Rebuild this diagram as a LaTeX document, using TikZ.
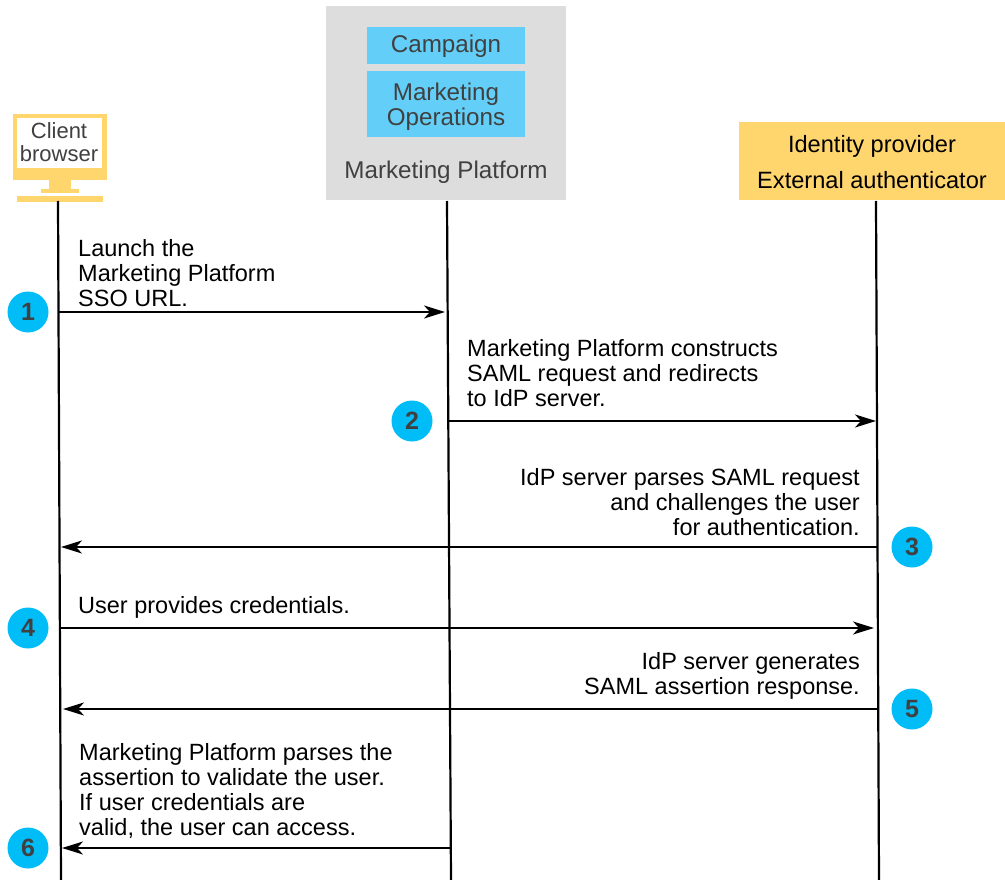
\documentclass[tikz,border=0pt]{standalone}
\usepackage{fontspec}
\setmainfont{Liberation Sans}
\usetikzlibrary{arrows.meta}
\definecolor{gold}{HTML}{FFD56E}
\definecolor{sky}{HTML}{63CFF8}
\definecolor{platgray}{HTML}{DDDDDD}
\definecolor{badge}{HTML}{00BDF8}
\definecolor{ink}{HTML}{404040}
\tikzset{
  lifeline/.style={draw=black,line width=2.2pt},
  msg/.style={draw=black,line width=2.2pt,-{Stealth[length=21pt,width=13pt,inset=6pt]}},
  label/.style={inner sep=0pt,font=\fontsize{23.5}{25}\selectfont,text=black},
  leftlabel/.style={label,anchor=north west,align=left},
  rightlabel/.style={label,anchor=north east,align=right},
  boxtext/.style={inner sep=0pt,text=ink,font=\fontsize{24.2}{25}\selectfont,align=center},
  stepbadge/.style={circle,fill=badge,minimum size=41pt,inner sep=0pt,text=ink,font=\fontsize{25}{25}\selectfont\bfseries},
}
\begin{document}
\begin{tikzpicture}[x=1pt,y=-1pt]
\useasboundingbox (0,0) rectangle (1005,880);
% monitor
\fill[gold] (13,114) rectangle (107,180);
\fill[white] (17,118) rectangle (102,168);
\fill[gold] (49,180) rectangle (71,189);
\fill[gold] (41,189) rectangle (79,193);
\fill[gold] (17,196) rectangle (103,202);
\node[boxtext,font=\fontsize{22}{23}\selectfont] (client) at (59,142) {Client\\browser};
% platform
\node[fill=platgray,minimum width=240pt,minimum height=194pt,inner sep=0pt] (platform) at (446,103) {};
\node[fill=sky,minimum width=158pt,minimum height=37pt,inner sep=0pt] (campaign) at (446,45.5) {};
\node[boxtext,yshift=-1pt] at (campaign) {Campaign};
\node[fill=sky,minimum width=158pt,minimum height=66pt,inner sep=0pt] (ops) at (446,104) {};
\node[boxtext,yshift=-3pt] at (ops) {Marketing\\Operations};
\node[boxtext] (platlabel) at (446,172.5) {Marketing Platform};
% idp
\node[fill=gold,minimum width=267pt,minimum height=78pt,inner sep=0pt] (idp) at (872.5,161) {};
\node[boxtext,text=black,font=\fontsize{23.6}{36}\selectfont] at (872,162) {Identity provider\\External authenticator};
% lifelines
\coordinate (clientend) at (61,880);
\coordinate (platend) at (451,880);
\coordinate (idpend) at (879,880);
\coordinate (clienttop) at (58,201);
\coordinate (plattop) at (447,201);
\coordinate (idptop) at (876,201);
\draw[lifeline] (clienttop) -- (clientend);
\draw[lifeline] (plattop) -- (platend);
\draw[lifeline] (idptop) -- (idpend);
% messages
\coordinate (a1) at (59,312); \coordinate (b1) at (445,312);
\coordinate (a2) at (449,421); \coordinate (b2) at (876,421);
\coordinate (a3) at (877,547); \coordinate (b3) at (61,547);
\coordinate (a4) at (61,628); \coordinate (b4) at (874,628);
\coordinate (a5) at (877,709); \coordinate (b5) at (63,709);
\coordinate (a6) at (450,848); \coordinate (b6) at (62,848);
\draw[msg] (a1) -- (b1);
\draw[msg] (a2) -- (b2);
\draw[msg] (a3) -- (b3);
\draw[msg] (a4) -- (b4);
\draw[msg] (a5) -- (b5);
\draw[msg] (a6) -- (b6);
% labels
\node[leftlabel] (t1) at (78,239) {Launch the\\Marketing Platform\\SSO URL.};
\node[leftlabel] (t2) at (467,339) {Marketing Platform constructs\\SAML request and redirects\\to IdP server.};
\node[rightlabel] (t3) at (860,468) {IdP server parses SAML request\\and challenges the user\\for authentication.};
\node[leftlabel] (t4) at (78,596) {User provides credentials.};
\node[rightlabel] (t5) at (860,652) {IdP server generates\\SAML assertion response.};
\node[leftlabel] (t6) at (79,743) {Marketing Platform parses the\\assertion to validate the user.\\If user credentials are\\valid, the user can access.};
% badges
\node[stepbadge] (s1) at (28,312) {1};
\node[stepbadge] (s2) at (412,421) {2};
\node[stepbadge] (s3) at (912,547) {3};
\node[stepbadge] (s4) at (28,628) {4};
\node[stepbadge] (s5) at (912,709) {5};
\node[stepbadge] (s6) at (28,848) {6};
\end{tikzpicture}
\end{document}
